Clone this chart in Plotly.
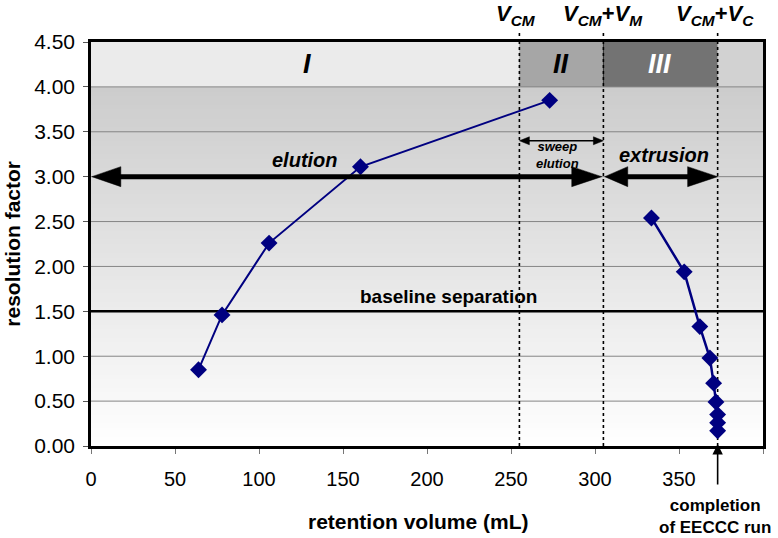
import plotly.graph_objects as go

# ---------------- data ----------------
elution_x = [64.0, 78.0, 106.0, 160.4, 273.0]
elution_y = [0.85, 1.46, 2.26, 3.11, 3.85]
extrusion_x = [333.6, 353.1, 362.4, 368.4, 370.6, 372.0, 373.0, 373.0, 373.0]
extrusion_y = [2.54, 1.94, 1.33, 0.98, 0.70, 0.49, 0.35, 0.26, 0.17]

V_CM = 255
V_CM_VM = 305
V_CM_VC = 373
baseline = 1.5

x_ticks = [0, 50, 100, 150, 200, 250, 300, 350, 400]
y_ticks = [0.0, 0.5, 1.0, 1.5, 2.0, 2.5, 3.0, 3.5, 4.0, 4.5]

# ---------------- layout geometry ----------------
W, H = 778, 538
ML, MR, MT, MB = 91, 15, 42, 92
PW, PH = W - ML - MR, H - MT - MB
XMAX, YMAX = 400, 4.5
pxx = PW / XMAX   # px per x unit
pxy = PH / YMAX   # px per y unit

FONT = "Arial, Liberation Sans, sans-serif"
NAVY = "#000080"

fig = go.Figure()

shapes = []
# gradient background
nsteps = 90
for i in range(nsteps):
    y0 = YMAX * i / nsteps
    y1 = YMAX * (i + 1) / nsteps
    ym = (y0 + y1) / 2
    g = int(round(255 - (255 - 204) * min(ym, 4.3) / 4.0))
    g = max(min(g, 255), 195)
    col = f"rgb({g},{g},{g})"
    shapes.append(dict(type="rect", xref="x", yref="y", x0=0, x1=XMAX, y0=y0,
                       y1=min(y1 + (y1 - y0) * 0.6, YMAX),
                       fillcolor=col, line=dict(width=0), layer="below"))
# top bands
bands = [(0, V_CM, "#ebebeb"), (V_CM, V_CM_VM, "#a6a6a6"), (V_CM_VM, V_CM_VC, "#737373"),
         (V_CM_VC, XMAX, "#d2d2d2")]
for x0, x1, c in bands:
    shapes.append(dict(type="rect", xref="x", yref="y", x0=x0, x1=x1, y0=4.0, y1=4.5,
                       fillcolor=c, line=dict(width=0), layer="below"))
shapes.append(dict(type="line", xref="x", yref="y", x0=V_CM_VM, x1=V_CM_VM, y0=4.0, y1=4.5,
                   line=dict(color="#303030", width=1), layer="below"))

# horizontal gridlines
for v in y_ticks[1:-1]:
    shapes.append(dict(type="line", xref="x", yref="y", x0=0, x1=XMAX, y0=v, y1=v,
                       line=dict(color="#858585", width=1), layer="below"))

# baseline separation line
shapes.append(dict(type="line", xref="x", yref="y", x0=0, x1=XMAX, y0=baseline, y1=baseline,
                   line=dict(color="black", width=2.5), layer="below"))

# dotted vertical boundary lines (inside plot + short stub above it)
for v in (V_CM, V_CM_VM, V_CM_VC):
    shapes.append(dict(type="line", xref="x", yref="y", x0=v, x1=v, y0=0, y1=YMAX,
                       line=dict(color="black", width=1.6, dash="dot"), layer="below"))
    shapes.append(dict(type="line", xref="x", yref="paper", x0=v, x1=v, y0=1.0, y1=1.03,
                       line=dict(color="black", width=1.6, dash="dot"), layer="above"))


def double_arrow(xa, xb, y, lw, hl_a, hl_b, hh):
    """Line with filled triangular heads at both ends (head sizes in px)."""
    la = hl_a / pxx
    lb = hl_b / pxx
    h = hh / pxy
    out = [dict(type="line", xref="x", yref="y", x0=xa + la * 0.8, x1=xb - lb * 0.8, y0=y, y1=y,
                line=dict(color="black", width=lw), layer="above")]
    out.append(dict(type="path", xref="x", yref="y",
                    path=f"M {xa},{y} L {xa + la},{y + h} L {xa + la},{y - h} Z",
                    fillcolor="black", line=dict(color="black", width=0.5), layer="above"))
    out.append(dict(type="path", xref="x", yref="y",
                    path=f"M {xb},{y} L {xb - lb},{y + h} L {xb - lb},{y - h} Z",
                    fillcolor="black", line=dict(color="black", width=0.5), layer="above"))
    return out


shapes += double_arrow(0.5, V_CM_VM - 1, 3.0, 5, 29, 30, 10)
shapes += double_arrow(V_CM_VM + 0.8, V_CM_VC, 3.0, 5, 23, 30, 10)
shapes += double_arrow(V_CM, V_CM_VM, 3.40, 1.3, 10, 10, 4)

fig.add_trace(go.Scatter(x=elution_x, y=elution_y, mode="lines+markers",
                         line=dict(color=NAVY, width=2),
                         marker=dict(symbol="diamond", size=13, color=NAVY),
                         showlegend=False))
fig.add_trace(go.Scatter(x=extrusion_x, y=extrusion_y, mode="lines+markers",
                         line=dict(color=NAVY, width=2.5),
                         marker=dict(symbol="diamond", size=13, color=NAVY),
                         showlegend=False))

ann = []


def txt(x, y, s, size, color="black", xref="x", yref="y", **kw):
    d = dict(x=x, y=y, xref=xref, yref=yref, text=s, showarrow=False,
             font=dict(family=FONT, size=size, color=color), xanchor="center", yanchor="middle")
    d.update(kw)
    ann.append(d)


txt(128.5, 4.25, "<b><i>I</i></b>", 27)
txt(279.6, 4.25, "<b><i>II</i></b>", 27)
txt(338.5, 4.25, "<b><i>III</i></b>", 27, color="white")
txt(127.6, 3.19, "<b><i>elution</i></b>", 20)
txt(341, 3.24, "<b><i>extrusion</i></b>", 20)
txt(277.5, 3.245, "<b><i>sweep<br>elution</i></b>", 13)
txt(212.8, 1.67, "<b>baseline separation</b>", 19)

txt(V_CM - 2, 1.066, "<b><i>V</i></b><sub><b><i>CM</i></b></sub>", 22, yref="paper")
txt(V_CM_VM, 1.066, "<b><i>V</i></b><sub><b><i>CM</i></b></sub><b>+<i>V</i></b><sub><b><i>M</i></b></sub>", 22, yref="paper")
txt(V_CM_VC - 1.5, 1.066, "<b><i>V</i></b><sub><b><i>CM</i></b></sub><b>+<i>V</i></b><sub><b><i>C</i></b></sub>", 22, yref="paper")

txt(V_CM_VC - 1.5, -0.175, "<b>completion<br>of EECCC run</b>", 17, yref="paper")
ann.append(dict(x=V_CM_VC, y=0.005, xref="x", yref="paper", ax=0, ay=42, text="",
                showarrow=True, arrowhead=2, arrowsize=1.3, arrowwidth=1.6, arrowcolor="black"))

txt(0.488, -0.186, "<b>retention volume (mL)</b>", 21, xref="paper", yref="paper")
txt(-0.118, 0.5, "<b>resolution factor</b>", 21, xref="paper", yref="paper", textangle=-90)

fig.update_layout(
    width=W, height=H,
    margin=dict(l=ML, r=MR, t=MT, b=MB, autoexpand=False),
    paper_bgcolor="white", plot_bgcolor="white",
    shapes=shapes, annotations=ann,
    font=dict(family=FONT, color="black"),
    xaxis=dict(range=[0, XMAX], tickvals=x_ticks, ticktext=[str(v) for v in x_ticks],
               showgrid=False, zeroline=False, ticks="outside", ticklen=5, tickcolor="#777",
               tickfont=dict(size=20, family=FONT), ticklabelstandoff=8, automargin=False,
               showline=True, linecolor="black", linewidth=2.5, mirror=True),
    yaxis=dict(range=[0, YMAX], tickvals=y_ticks, ticktext=[f"{v:.2f}" for v in y_ticks],
               showgrid=False, zeroline=False, automargin=False,
               ticks="outside", ticklen=5, tickcolor="#555",
               tickfont=dict(size=21, family=FONT), ticklabelstandoff=4,
               showline=True, linecolor="black", linewidth=2.5, mirror=True),
)

fig.write_html("out.html", config={"displayModeBar": False},
               post_script="document.body.style.margin='0';")
